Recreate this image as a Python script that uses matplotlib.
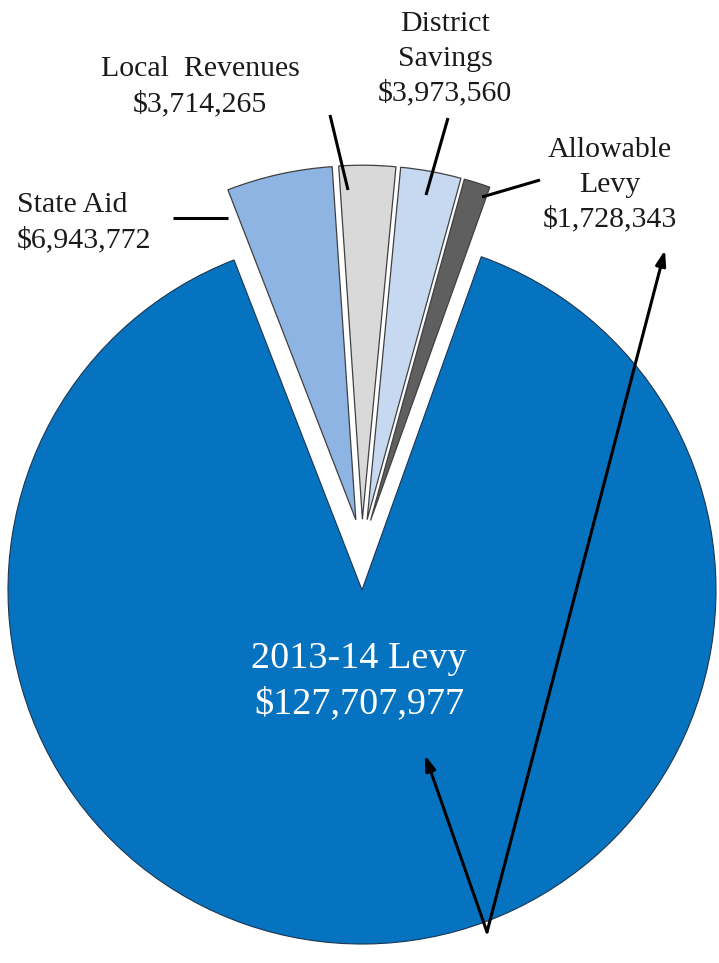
import matplotlib
matplotlib.use("Agg")
import matplotlib.pyplot as plt

# ---- data ----
categories = ["State Aid", "Local Revenues", "District Savings", "Allowable Levy", "2013-14 Levy"]
values = [6943772, 3714265, 3973560, 1728343, 127707977]
label_texts = ["State Aid\n$6,943,772", "Local  Revenues\n$3,714,265", "District\nSavings\n$3,973,560",
               "Allowable\nLevy\n$1,728,343", "2013-14 Levy\n$127,707,977"]
colors = ["#8EB4E3", "#D9D9D9", "#C6D9F1", "#5F5F5F", "#0673C1"]

W, H = 719, 963
CX, CY, R = 362, 590, 354   # pixel geometry of the pie


def px(x, y):
    return ((x - CX) / R, (CY - y) / R)


fig = plt.figure(figsize=(W / 100, H / 100), dpi=100)
ax = fig.add_axes([0, 0, 1, 1])

explode = [0.08, 0.08, 0.08, 0.08, 0.0]
total = sum(values)
small_share = sum(values[:4]) / total * 360
start = 90 + small_share / 2 + 0.75
wedges, _ = ax.pie(values, explode=explode, colors=colors, startangle=start,
                   counterclock=False, radius=1.0, center=(0, 0),
                   wedgeprops=dict(edgecolor="#404040", linewidth=0.9))
# lift the small slices together
for w in wedges[:4]:
    cx, cy = w.center
    w.set_center((cx, cy + 0.12))
wedges[4].set_edgecolor("#1d3550")
wedges[4].set_linewidth(0.8)

ax.set_xlim(px(0, 0)[0], px(W, 0)[0])
ax.set_ylim(px(0, H)[1], px(0, 0)[1])
ax.set_aspect("equal")
ax.axis("off")

serif = ["Liberation Serif", "DejaVu Serif"]
fs = 21.5
ls = 1.42
tc = "#1a1a1a"
ax.text(*px(17, 223), label_texts[0], ha="left", va="center", fontsize=fs,
        family=serif, linespacing=ls, color=tc)
ax.text(*px(200, 87), label_texts[1], ha="center", va="center", fontsize=fs,
        family=serif, linespacing=ls, color=tc)
ax.text(*px(445, 59), label_texts[2], ha="center", va="center", fontsize=fs,
        family=serif, linespacing=ls, color=tc)
ax.text(*px(610, 185), label_texts[3], ha="center", va="center", fontsize=fs,
        family=serif, linespacing=ls, color=tc)
ax.text(*px(359, 681), label_texts[4], ha="center", va="center", fontsize=27.5,
        family=serif, linespacing=1.4, color="white")

# leader lines
leaders = [((173, 218), (228, 218)), ((330, 115), (348, 190)),
           ((448, 118), (426, 195)), ((540, 180), (482, 197))]
for (x0, y0), (x1, y1) in leaders:
    p0, p1 = px(x0, y0), px(x1, y1)
    ax.plot([p0[0], p1[0]], [p0[1], p1[1]], color="black", lw=2.2,
            solid_capstyle="butt")

# arrows
tail = px(487, 932)
for head in [(425, 755), (665, 250)]:
    ax.annotate("", xy=px(*head), xytext=tail,
                arrowprops=dict(arrowstyle="-|>,head_length=0.9,head_width=0.3",
                                color="black", lw=2.2, shrinkA=0, shrinkB=0))

fig.savefig("out.png", dpi=100)
